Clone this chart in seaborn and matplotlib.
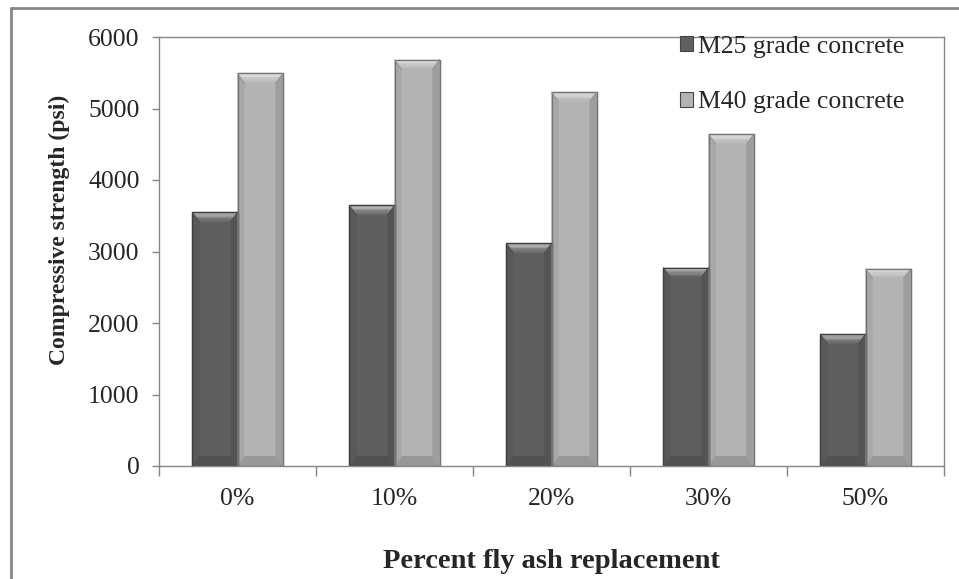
import numpy as np
import pandas as pd
import matplotlib
matplotlib.use("Agg")
import matplotlib.pyplot as plt
import seaborn as sns
from matplotlib.patches import Polygon
from matplotlib.lines import Line2D
from matplotlib.colors import to_rgb

# Data
categories = ["0%", "10%", "20%", "30%", "50%"]
m25_strength = [3550, 3645, 3115, 2775, 1845]
m40_strength = [5490, 5685, 5230, 4640, 2760]
series_names = ["M25 grade concrete", "M40 grade concrete"]
y_ticks = [0, 1000, 2000, 3000, 4000, 5000, 6000]

df = pd.DataFrame({
    "fly_ash": categories * 2,
    "strength": m25_strength + m40_strength,
    "grade": [series_names[0]] * len(categories) + [series_names[1]] * len(categories),
})

face_colors = {series_names[0]: "#5f5f5f", series_names[1]: "#b3b3b3"}

sns.set_theme(style="white")
plt.rcParams["font.family"] = ["Liberation Serif", "DejaVu Serif"]

W, H = 959, 579
fig = plt.figure(figsize=(W / 100, H / 100), dpi=100)
ax = fig.add_axes([159 / W, 1 - 466 / H, 785 / W, 429 / H])

sns.barplot(data=df, x="fly_ash", y="strength", hue="grade",
            palette=face_colors, width=0.575, ax=ax,
            edgecolor="#474747", linewidth=0.8, saturation=1)

ax.set_ylim(0, 6000)
ax.set_xlim(-0.5, len(categories) - 0.5)


def mix(c, t, amt):
    c = np.array(to_rgb(c)); t = np.array(to_rgb(t))
    return tuple(c + (t - c) * amt)


def add_bevel(bar, face):
    """Overlay bevel shading on a bar using its own geometry."""
    x0 = bar.get_x(); w = bar.get_width(); h = bar.get_height()
    x1 = x0 + w
    dx = w * 0.16
    dy = 140.0
    if h < 2 * dy:
        return
    z = bar.get_zorder() + 0.1
    # side bevels
    ax.add_patch(Polygon([(x0, 0), (x0 + dx, dy), (x0 + dx, h - dy), (x0, h)],
                         closed=True, fc=mix(face, "black", 0.06), ec="none", zorder=z))
    ax.add_patch(Polygon([(x1, 0), (x1 - dx, dy), (x1 - dx, h - dy), (x1, h)],
                         closed=True, fc=mix(face, "black", 0.12), ec="none", zorder=z))
    # bottom bevel
    ax.add_patch(Polygon([(x0, 0), (x1, 0), (x1 - dx, dy), (x0 + dx, dy)],
                         closed=True, fc=mix(face, "black", 0.15), ec="none", zorder=z))
    # top bevel with a gradient from highlight to face
    n = 8
    for i in range(n):
        f0 = i / n; f1 = (i + 1) / n
        ya = h - dy * f0; yb = h - dy * f1
        xa0 = x0 + dx * f0; xb0 = x0 + dx * f1
        xa1 = x1 - dx * f0; xb1 = x1 - dx * f1
        col = mix(face, "white", 0.7 * (1 - f0) ** 1.3)
        ax.add_patch(Polygon([(xa0, ya), (xa1, ya), (xb1, yb), (xb0, yb)],
                             closed=True, fc=col, ec="none", zorder=z))
    # thin outline along the bar
    ax.add_patch(Polygon([(x0, 0), (x0, h), (x1, h), (x1, 0)], closed=True,
                         fill=False, ec=mix(face, "black", 0.35), lw=1.0, zorder=z + 0.05))
    # diagonal corner lines
    for (xa, ya, xb, yb) in [(x0, h, x0 + dx, h - dy), (x1, h, x1 - dx, h - dy)]:
        ax.add_line(Line2D([xa, xb], [ya, yb], color=mix(face, "black", 0.2),
                           lw=0.6, zorder=z + 0.05))


for container, name in zip(ax.containers, series_names):
    for bar in container:
        add_bevel(bar, face_colors[name])

# Axes styling
spine_col = "#868686"
for s in ax.spines.values():
    s.set_visible(True)
    s.set_color(spine_col)
    s.set_linewidth(1.0)

ax.set_yticks(y_ticks)
ax.set_yticklabels([str(v) for v in y_ticks])
ax.tick_params(axis="y", which="major", direction="out", length=5, width=1,
               color=spine_col, pad=9, labelsize=18.5, left=True)
ax.set_xticks(range(len(categories)))
ax.set_xticklabels(categories)
ax.set_xticks(np.arange(-0.5, len(categories), 1.0), minor=True)
ax.tick_params(axis="x", which="major", length=0, pad=16, labelsize=18.5)
ax.tick_params(axis="x", which="minor", direction="out", length=7, width=1,
               color=spine_col, bottom=True)
ax.grid(False)

ax.set_xlabel("Percent fly ash replacement", fontsize=20.5, fontweight="bold")
ax.set_ylabel("Compressive strength (psi)", fontsize=17, fontweight="bold")
ax.xaxis.set_label_coords(0.5, -0.194)
ax.yaxis.set_label_coords(-0.113, 0.55)

leg = ax.legend(loc="upper left", bbox_to_anchor=(680 / W, 1 - 36 / H),
                bbox_transform=fig.transFigure, frameon=False,
                fontsize=18.5, handlelength=0.52, handleheight=0.52,
                handletextpad=0.2, labelspacing=1.3, borderpad=0, borderaxespad=0)

# Outer chart border (top and left edges)
fig.add_artist(Line2D([11 / W, 1.0], [1 - 8 / H, 1 - 8 / H],
                      transform=fig.transFigure, color="#878787", lw=2))
fig.add_artist(Line2D([11 / W, 11 / W], [0.0, 1 - 8 / H],
                      transform=fig.transFigure, color="#878787", lw=2))

fig.savefig("out.png", dpi=100)
